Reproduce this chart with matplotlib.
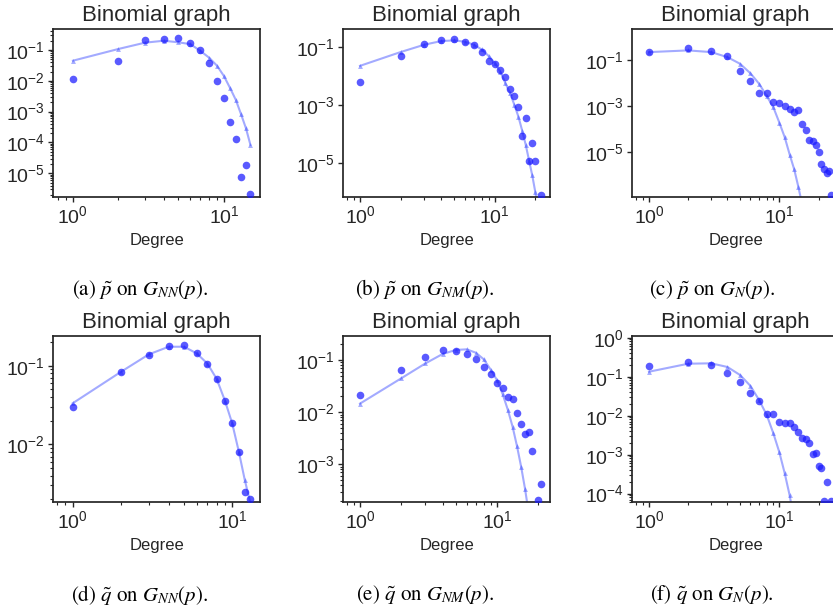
"""Degree distributions of the binomial graph: observed vs fitted, six panels."""
import numpy as np
import matplotlib
matplotlib.use("Agg")
import matplotlib.pyplot as plt
from matplotlib.ticker import LogLocator

plt.rcParams["font.family"] = ["Liberation Sans", "DejaVu Sans"]
plt.rcParams["mathtext.fontset"] = "stix"
plt.rcParams["axes.edgecolor"] = "0.15"
plt.rcParams["axes.linewidth"] = 1.25
plt.rcParams["text.color"] = "0.15"
plt.rcParams["axes.labelcolor"] = "0.15"
plt.rcParams["xtick.color"] = "0.15"
plt.rcParams["ytick.color"] = "0.15"

# ---------------------------------------------------------------------------
# data (degree k, probability)
# ---------------------------------------------------------------------------
a_k_obs = list(range(1, 16))
a_obs = [0.0112, 0.045, 0.21, 0.233, 0.25, 0.169, 0.1, 0.037, 0.0099, 0.00284,
         4.6e-4, 1.3e-4, 7.8e-6, 1.8e-5, 2.1e-6]
a_k_fit = list(range(1, 16))
a_fit = [0.045, 0.108, 0.173, 0.2, 0.178, 0.155, 0.093, 0.056, 0.031, 0.0144,
         0.0058, 0.0024, 8.2e-4, 2.9e-4, 8.3e-5]

b_k_obs = list(range(1, 21)) + [22]
b_obs = [0.0066, 0.049, 0.13, 0.18, 0.195, 0.16, 0.12, 0.067, 0.035, 0.026,
         0.0168, 0.0093, 0.0036, 0.0021, 8.5e-4, 8.7e-5, 3.6e-4, 1.2e-5, 4.9e-5,
         1.2e-5, 7.8e-7]
b_k_fit = list(range(1, 22))
b_fit = [0.023, 0.069, 0.124, 0.166, 0.175, 0.158, 0.124, 0.085, 0.051, 0.029,
         0.0146, 0.0058, 0.0026, 0.00102, 4.0e-4, 1.3e-4, 4.2e-5, 1.2e-5, 3.7e-6,
         1.0e-6, 2.5e-7]

c_k_obs = list(range(1, 26))
c_obs = [0.215, 0.32, 0.246, 0.149, 0.034, 0.0118, 0.0036, 0.0036, 0.00145,
         0.00132, 0.001, 7.4e-4, 5.3e-4, 6.5e-4, 1.7e-4, 8.8e-5, 3.5e-5, 3.1e-5,
         2.0e-5, 1.07e-5, 3.2e-6, 1.8e-6, 1.2e-6, 1.6e-6, 1.35e-7]
c_k_fit = list(range(1, 16))
c_fit = [0.215, 0.255, 0.215, 0.13, 0.067, 0.026, 0.0091, 0.0027, 8.7e-4,
         1.9e-4, 4.4e-5, 7.9e-6, 1.8e-6, 3.1e-7, 5e-8]

d_k_obs = list(range(1, 14))
d_obs = [0.030, 0.082, 0.137, 0.178, 0.185, 0.143, 0.106, 0.0676, 0.0359,
         0.0185, 0.0081, 0.0025, 0.0020]
d_k_fit = list(range(1, 14))
d_fit = [0.0332, 0.083, 0.139, 0.174, 0.174, 0.143, 0.106, 0.0676, 0.036,
         0.0185, 0.0081, 0.0035, 0.0018]

e_k_obs = list(range(1, 19)) + [20, 21]
e_obs = [0.0213, 0.064, 0.112, 0.153, 0.147, 0.130, 0.105, 0.073, 0.054,
         0.0357, 0.0286, 0.0199, 0.0179, 0.0098, 0.0059, 0.0038, 0.0042, 0.0018,
         2.1e-4, 4.2e-4]
e_k_fit = list(range(1, 18))
e_fit = [0.0146, 0.0446, 0.086, 0.130, 0.156, 0.160, 0.138, 0.103, 0.065,
         0.041, 0.022, 0.011, 0.0052, 0.0022, 8.9e-4, 3.4e-4, 1.2e-4]

f_k_obs = list(range(1, 24)) + [25]
f_obs = [0.188, 0.233, 0.20, 0.127, 0.0716, 0.0375, 0.0243, 0.0108, 0.0108,
         0.0068, 0.0064, 0.0063, 0.0052, 0.0037, 0.0026, 0.0025, 0.0020, 0.00102,
         0.0011, 5.2e-4, 4.5e-4, 6.6e-5, 2.0e-4, 6.6e-5]
f_k_fit = list(range(1, 14))
f_fit = [0.134, 0.215, 0.22, 0.177, 0.110, 0.058, 0.025, 0.0104, 0.0035,
         0.00115, 3.3e-4, 9.0e-5, 2e-5]

captions = [r"(a) $\tilde{p}$ on $G_{NN}(p)$.", r"(b) $\tilde{p}$ on $G_{NM}(p)$.",
            r"(c) $\tilde{p}$ on $G_{N}(p)$.", r"(d) $\tilde{q}$ on $G_{NN}(p)$.",
            r"(e) $\tilde{q}$ on $G_{NM}(p)$.", r"(f) $\tilde{q}$ on $G_{N}(p)$."]

# axis limits per panel (log10 units)
xlims = [(-0.130, 1.238), (-0.124, 1.409), (-0.128, 1.456),
         (-0.121, 1.173), (-0.122, 1.385), (-0.128, 1.456)]
ylims = [(-5.77, -0.318), (-6.18, -0.362), (-6.94, 0.333),
         (-2.737, -0.623), (-3.728, -0.54), (-4.222, 0.043)]
# panels (b) and (c) label every other decade, the rest every decade
every_decade = [True, False, False, True, True, True]

panels = [(a_k_obs, a_obs, a_k_fit, a_fit), (b_k_obs, b_obs, b_k_fit, b_fit),
          (c_k_obs, c_obs, c_k_fit, c_fit), (d_k_obs, d_obs, d_k_fit, d_fit),
          (e_k_obs, e_obs, e_k_fit, e_fit), (f_k_obs, f_obs, f_k_fit, f_fit)]

# ---------------------------------------------------------------------------
# layout in pixels (figure is 833 x 615)
# ---------------------------------------------------------------------------
W, H = 833, 615
col_left = [53.3, 343.3, 632.3]
ax_w = 206.5
rows = [(29, 197), (336, 502.3)]
cap_x = [140, 425, 712]
cap_y = [289, 595]

fig = plt.figure(figsize=(W / 100, H / 100), dpi=100)

for i, (k_obs, obs, k_fit, fit) in enumerate(panels):
    r, c = divmod(i, 3)
    top, bot = rows[r]
    ax = fig.add_axes([col_left[c] / W, 1 - bot / H, ax_w / W, (bot - top) / H])
    ax.plot(k_fit, fit, "-^", color="#3344ff", alpha=0.45, lw=1.5, ms=3.5,
            markeredgewidth=0, zorder=2)
    ax.scatter(k_obs, obs, s=30, color="#1a1aff", alpha=0.72, linewidths=0,
               zorder=3)
    ax.set_xscale("log")
    ax.set_yscale("log")
    ax.set_xlim(10 ** xlims[i][0], 10 ** xlims[i][1])
    ax.set_ylim(10 ** ylims[i][0], 10 ** ylims[i][1])
    if every_decade[i]:
        ax.yaxis.set_major_locator(LogLocator(base=10, numticks=15))
        ax.yaxis.set_minor_locator(LogLocator(base=10, subs=np.arange(2, 10),
                                              numticks=15))
    ax.set_title("Binomial graph", fontsize=16)
    ax.set_xlabel("Degree", fontsize=12)
    ax.tick_params(which="major", length=3.5, width=1, labelsize=14, pad=2.5)
    ax.tick_params(which="minor", length=2, width=0.8)

    fig.text(cap_x[c] / W, 1 - cap_y[r] / H, captions[i], ha="center",
             va="center", fontsize=15, family="STIXGeneral", color="black")

fig.savefig("out.png", dpi=100)
plt.close(fig)
